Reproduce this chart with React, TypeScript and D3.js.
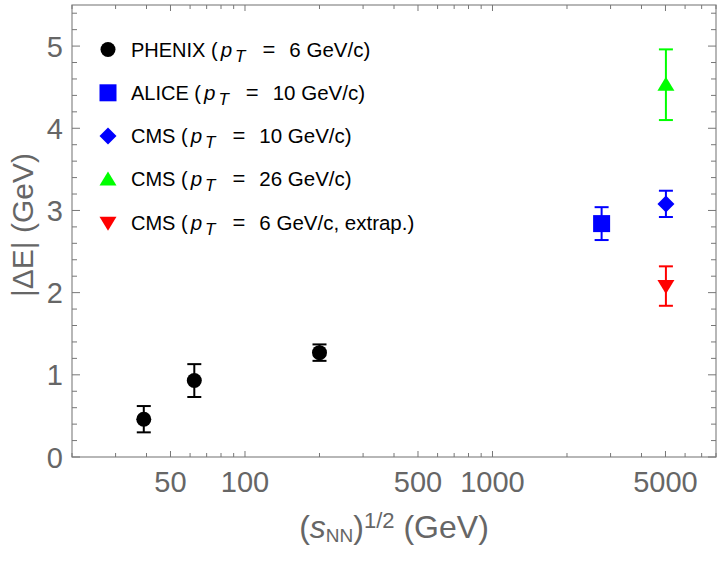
// @ts-nocheck
import React from 'react';
import * as d3 from 'd3';

// data
const phenixX = [39, 62.4, 200];
const phenixY = [0.46, 0.93, 1.27];
const phenixErr = [0.16, 0.2, 0.1];

const aliceX = [2760];
const aliceY = [2.84];
const aliceErr = [0.2];

const cms10X = [5020];
const cms10Y = [3.08];
const cms10Err = [0.16];

const cms26X = [5020];
const cms26Y = [4.53];
const cms26Err = [0.43];

const cms6X = [5020];
const cms6Y = [2.08];
const cms6Err = [0.24];

const xLabelTicks = [50, 100, 500, 1000, 5000];
const yLabelTicks = [0, 1, 2, 3, 4, 5];

const legendNames = ['PHENIX (', 'ALICE (', 'CMS (', 'CMS (', 'CMS ('];
const legendValues = ['6', '10', '10', '26', '6'];
const legendTails = [' GeV/c)', ' GeV/c)', ' GeV/c)', ' GeV/c)', ' GeV/c, extrap.)'];

const W = 720;
const H = 562;
const left = 72, right = 716, top = 5, bottom = 457;
const font = "'Liberation Sans', Arial, Helvetica, sans-serif";
const gray = '#666';

const App = () => {
  const x = d3.scaleLog().domain([20, 8000]).range([left, right]);
  const y = d3.scaleLinear().domain([0, 5.5]).range([bottom, top]);

  // log minor ticks 20..8000
  const xTicks = [];
  [10, 100, 1000].forEach((dec) => {
    for (let k = 1; k <= 9; k++) {
      const v = dec * k;
      if (v >= 20 && v <= 8000) xTicks.push(v);
    }
  });
  const yTicks = d3.range(0, 5.41, 0.2).map((v) => +v.toFixed(1));

  const series = [
    { xs: phenixX, ys: phenixY, es: phenixErr, color: '#000', shape: 'circle' },
    { xs: aliceX, ys: aliceY, es: aliceErr, color: '#0000ff', shape: 'square' },
    { xs: cms10X, ys: cms10Y, es: cms10Err, color: '#0000ff', shape: 'diamond' },
    { xs: cms26X, ys: cms26Y, es: cms26Err, color: '#00ff00', shape: 'up' },
    { xs: cms6X, ys: cms6Y, es: cms6Err, color: '#ff0000', shape: 'down' },
  ];

  const marker = (shape, cx, cy, color, s = 1) => {
    if (shape === 'circle') return <circle cx={cx} cy={cy} r={7.5 * s} fill={color} />;
    if (shape === 'square') return <rect x={cx - 8.5 * s} y={cy - 8.5 * s} width={17 * s} height={17 * s} fill={color} />;
    if (shape === 'diamond')
      return <path d={`M${cx},${cy - 8.5 * s}L${cx + 8.5 * s},${cy}L${cx},${cy + 8.5 * s}L${cx - 8.5 * s},${cy}Z`} fill={color} />;
    if (shape === 'up')
      return <path d={`M${cx},${cy - 8 * s}L${cx + 8.5 * s},${cy + 6 * s}L${cx - 8.5 * s},${cy + 6 * s}Z`} fill={color} />;
    return <path d={`M${cx},${cy + 8 * s}L${cx + 8.5 * s},${cy - 6 * s}L${cx - 8.5 * s},${cy - 6 * s}Z`} fill={color} />;
  };

  return (
    <svg width={W} height={H} style={{ position: 'absolute', left: 0, top: 0, fontFamily: font }}>
      <rect x={0} y={0} width={W} height={H} fill="#fff" />

      {/* frame */}
      <rect x={left} y={top} width={right - left} height={bottom - top} fill="none" stroke="#888" strokeWidth={1.2} />

      {/* x ticks bottom & top */}
      {xTicks.map((v) => {
        const major = xLabelTicks.includes(v);
        const len = major ? 6 : 4;
        return (
          <g key={'xt' + v} stroke="#777" strokeWidth={1}>
            <line x1={x(v)} x2={x(v)} y1={bottom} y2={bottom - len} />
            <line x1={x(v)} x2={x(v)} y1={top} y2={top + len} />
          </g>
        );
      })}
      {xLabelTicks.map((v) => (
        <text key={'xl' + v} x={x(v)} y={492} textAnchor="middle" fontSize={29} fill={gray}>
          {v}
        </text>
      ))}

      {/* y ticks left & right */}
      {yTicks.map((v) => {
        const major = Math.abs(v - Math.round(v)) < 1e-6;
        const len = major ? 8 : 5;
        return (
          <g key={'yt' + v} stroke="#777" strokeWidth={1}>
            <line x1={left} x2={left + len} y1={y(v)} y2={y(v)} />
            <line x1={right} x2={right - len} y1={y(v)} y2={y(v)} />
          </g>
        );
      })}
      {yLabelTicks.map((v) => (
        <text key={'yl' + v} x={63} y={y(v) + 10.5} textAnchor="end" fontSize={29} fill={gray}>
          {v}
        </text>
      ))}

      {/* axis titles */}
      <text x={394} y={538} textAnchor="middle" fontSize={32} fill={gray}>
        (<tspan fontStyle="italic">s</tspan>
        <tspan fontSize={19} dy={4}>NN</tspan>
        <tspan dy={-4}>)</tspan>
        <tspan fontSize={22} dy={-10}>1/2</tspan>
        <tspan dy={10}> (GeV)</tspan>
      </text>
      <text transform="translate(33,225) rotate(-90)" textAnchor="middle" fontSize={30} fill={gray}>
        |ΔE| (GeV)
      </text>

      {/* error bars and points */}
      {series.map((s, i) =>
        s.xs.map((xv, j) => {
          const cx = x(xv);
          const y1 = y(s.ys[j] + s.es[j]);
          const y0 = y(s.ys[j] - s.es[j]);
          return (
            <g key={'p' + i + '-' + j}>
              <g stroke={s.color} strokeWidth={2}>
                <line x1={cx} x2={cx} y1={y1} y2={y0} />
                <line x1={cx - 7} x2={cx + 7} y1={y1} y2={y1} />
                <line x1={cx - 7} x2={cx + 7} y1={y0} y2={y0} />
              </g>
              {marker(s.shape, cx, y(s.ys[j]), s.color)}
            </g>
          );
        })
      )}

      {/* legend */}
      {series.map((s, i) => {
        const by = 56.5 + i * 43.3;
        return (
          <g key={'lg' + i}>
            {marker(s.shape, 108, by - 7, s.color, 1)}
            <text x={131} y={by} fontSize={20} fill="#000">
              {legendNames[i]}
              <tspan fontStyle="italic" fontSize={20.5} dx={3}>p</tspan>
              <tspan fontStyle="italic" fontSize={17} dx={3} dy={5}>T</tspan>
              <tspan dx={17} dy={-5} fontSize={22}>=</tspan>
              <tspan dx={14} fontSize={20.5}>{legendValues[i]}</tspan>
              <tspan fontSize={20.5}>{legendTails[i]}</tspan>
            </text>
          </g>
        );
      })}
    </svg>
  );
};

export default App;
